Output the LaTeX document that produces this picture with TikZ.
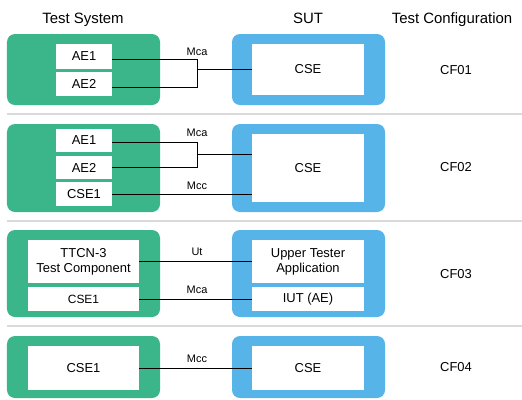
\documentclass[tikz,border=0pt]{standalone}
\usepackage{fontspec}
\setmainfont{Liberation Sans}
\definecolor{tsgreen}{HTML}{3BB68B}
\definecolor{sutblue}{HTML}{56B4E8}
\definecolor{sepgray}{HTML}{DADADA}
\begin{document}
\begin{tikzpicture}[x=1bp,y=-1bp,
  outerg/.style={fill=tsgreen,rounded corners=8bp,inner sep=0,minimum width=153bp},
  outerb/.style={fill=sutblue,rounded corners=8bp,inner sep=0,minimum width=153bp},
  inbox/.style={fill=white,inner sep=0,align=center,font=\fontsize{13}{15}\selectfont},
  lbl/.style={anchor=base,inner sep=0,font=\fontsize{11}{13}\selectfont},
  hdr/.style={anchor=base,inner sep=0,font=\fontsize{15}{18}\selectfont},
  cfg/.style={inner sep=0,font=\fontsize{13}{15}\selectfont},
  conn/.style={draw=black,line width=0.8bp},
  sep/.style={draw=sepgray,line width=1.2bp}]
\useasboundingbox (0,0) rectangle (522,399);
% headers
\node[hdr] (h1) at (83,23) {Test System};
\node[hdr] (h2) at (308,23) {SUT};
\node[hdr] (h3) at (452,23) {Test Configuration};
% separators
\draw[sep] (7,114) -- (522,114);
\draw[sep] (7,221) -- (522,221);
\draw[sep] (7,326) -- (522,326);
% ---- row 1
\node[outerg,minimum height=71bp] (g1) at (83.5,69.5) {};
\node[outerb,minimum height=71bp] (b1) at (308.5,69.5) {};
\node[inbox,minimum width=56bp,minimum height=25bp] (a11) at (84,56.5) {AE1};
\node[inbox,minimum width=56bp,minimum height=24bp] (a12) at (84,84) {AE2};
\node[inbox,minimum width=112bp,minimum height=51bp] (c1) at (308,69.5) {CSE};
\coordinate (j1) at (197,69.5);
\draw[conn] ([yshift=-2.5bp]a11.east) -| (j1);
\draw[conn] ([yshift=-3bp]a12.east) -| (j1);
\draw[conn] (j1) -- (c1.west);
\node[lbl] (m1) at (197,55) {Mca};
\node[cfg] (cf1) at (456,70) {CF01};
% ---- row 2
\node[outerg,minimum height=88bp] (g2) at (83.5,168) {};
\node[outerb,minimum height=88bp] (b2) at (308.5,168) {};
\node[inbox,minimum width=56bp,minimum height=23bp] (a21) at (84,140.5) {AE1};
\node[inbox,minimum width=56bp,minimum height=23bp] (a22) at (84,167.5) {AE2};
\node[inbox,minimum width=56bp,minimum height=24bp] (s2) at (84,194) {CSE1};
\node[inbox,minimum width=112bp,minimum height=68bp] (c2) at (308,168) {CSE};
\coordinate (j2) at (197,154);
\draw[conn] ([yshift=-1.5bp]a21.east) -| (j2);
\draw[conn] (a22.east) -| (j2);
\draw[conn] (j2) -- (j2 -| c2.west);
\draw[conn] (s2.east) -- (s2.east -| c2.west);
\node[lbl] (m2) at (197,136) {Mca};
\node[lbl] (m3) at (197,189) {Mcc};
\node[cfg] (cf2) at (456,167) {CF02};
% ---- row 3
\node[outerg,minimum height=87bp] (g3) at (83.5,273.5) {};
\node[outerb,minimum height=87bp] (b3) at (308.5,273.5) {};
\node[inbox,minimum width=111bp,minimum height=43bp] (t3) at (83.5,261.5) {TTCN-3\\Test Component};
\node[inbox,minimum width=111bp,minimum height=24bp,font=\fontsize{12}{14}\selectfont] (s3) at (83.5,299) {CSE1};
\node[inbox,minimum width=112bp,minimum height=43bp] (u3) at (308,261.5) {Upper Tester\\Application};
\node[inbox,minimum width=112bp,minimum height=24bp] (i3) at (308,299) {IUT (AE)};
\draw[conn] (t3.east) -- (u3.west);
\draw[conn] (s3.east) -- (i3.west);
\node[lbl] (m4) at (197,255) {Ut};
\node[lbl] (m5) at (197,293) {Mca};
\node[cfg] (cf3) at (456,274) {CF03};
% ---- row 4
\node[outerg,minimum height=62bp] (g4) at (83.5,367) {};
\node[outerb,minimum height=62bp] (b4) at (308.5,367) {};
\node[inbox,minimum width=111bp,minimum height=44bp] (s4) at (83.5,368) {CSE1};
\node[inbox,minimum width=112bp,minimum height=44bp] (c4) at (308,368) {CSE};
\draw[conn] (s4.east) -- (c4.west);
\node[lbl] (m6) at (197,362) {Mcc};
\node[cfg] (cf4) at (456,367) {CF04};
\end{tikzpicture}
\end{document}
